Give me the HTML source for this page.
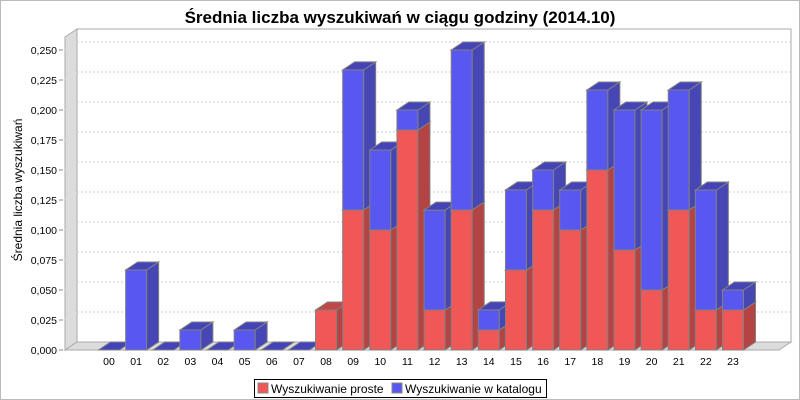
<!DOCTYPE html>
<html><head><meta charset="utf-8"><style>
body{margin:0;background:#fff}
svg{display:block;font-family:"Liberation Sans",sans-serif}
</style></head><body>
<svg id="c" width="800" height="400" xmlns="http://www.w3.org/2000/svg">
<rect x="0.5" y="0.5" width="799" height="399" fill="#fff" stroke="#bbb"/>
<text x="400" y="23" text-anchor="middle" font-size="17" font-weight="bold">Średnia liczba wyszukiwań w ciągu godziny (2014.10)</text>
<text transform="translate(22,190) rotate(-90)" text-anchor="middle" font-size="12">Średnia liczba wyszukiwań</text>
<g id="plot"></g>
<g>
<rect x="254.5" y="379.5" width="292" height="18" fill="#fff" stroke="#000"/>
<g><rect x="258" y="383" width="10" height="10" fill="#f05858" stroke="#888"/><text x="271" y="393" font-size="12">Wyszukiwanie proste</text></g>
<g><rect x="392" y="383" width="10" height="10" fill="#5858f0" stroke="#888"/><text x="405" y="393" font-size="12">Wyszukiwanie w katalogu</text></g>
</g>
</svg>
<script>
const categories=["00","01","02","03","04","05","06","07","08","09","10","11","12","13","14","15","16","17","18","19","20","21","22","23"];
const proste=[0,0,0,0,0,0,0,0,0.0333,0.1167,0.1,0.1833,0.0333,0.1167,0.0167,0.0667,0.1167,0.1,0.15,0.0833,0.05,0.1167,0.0333,0.0333];
const katalog=[0,0.0667,0,0.0167,0,0.0167,0,0,0,0.1167,0.0667,0.0167,0.0833,0.1333,0.0167,0.0667,0.0333,0.0333,0.0667,0.1167,0.15,0.1,0.1,0.0167];
const ticks=[0,0.025,0.05,0.075,0.1,0.125,0.15,0.175,0.2,0.225,0.25];
const tickLabels=["0,000","0,025","0,050","0,075","0,100","0,125","0,150","0,175","0,200","0,225","0,250"];
const NS="http://www.w3.org/2000/svg";
const g=document.getElementById('plot');
const DX=12,DY=8,Y0=350,YMAX=0.25,PH=300,X0=65,X1=779;
const y=v=>Y0-v/YMAX*PH;
const xc=i=>109+i*(733-109)/(categories.length-1);
const BW=21;
function el(t,a){const e=document.createElementNS(NS,t);for(const k in a)e.setAttribute(k,a[k]);g.appendChild(e);return e;}
// walls
let w=el('polygon',{points:`${X0},${Y0} ${X0+DX},${Y0-DY} ${X0+DX},29 ${X0},37`,fill:'#dcdcdc',stroke:'#aaa'});

w=el('polygon',{points:`${X0},${Y0} ${X0+DX},${Y0-DY} ${X1+DX},${Y0-DY} ${X1},${Y0}`,fill:'#dcdcdc',stroke:'#aaa'});

w=el('polyline',{points:`${X0+DX},${Y0-DY} ${X0+DX},29 ${X1+DX},29 ${X1+DX},${Y0-DY}`,fill:'none',stroke:'#aaa'});

ticks.forEach((t,i)=>{
 if(t>0){const l=el('line',{x1:X0,y1:y(t),x2:X0+DX,y2:y(t)-DY,stroke:'#ddd'});
 
 const gl=el('line',{x1:X0+DX,y1:y(t)-DY,x2:X1+DX,y2:y(t)-DY,stroke:'#ccc','stroke-dasharray':'2,2'});
 }
 const tk=el('line',{x1:59,y1:y(t),x2:63,y2:y(t),stroke:'#888'});
 
 const tx=el('text',{x:57,y:y(t)+4,'text-anchor':'end','font-size':'10.5'});tx.textContent=tickLabels[i];
 
});
function box(x,v0,v1,front,side,top,name){
 const yb=y(v0),yt=y(v1);
 const grp=document.createElementNS(NS,'g');g.appendChild(grp);
 
 const add=(pts,f)=>{const p=document.createElementNS(NS,'polygon');p.setAttribute('points',pts);p.setAttribute('fill',f);p.setAttribute('stroke','#808080');grp.appendChild(p);};
 if(v1>v0){
 add(`${x},${yb} ${x+BW},${yb} ${x+BW},${yt} ${x},${yt}`,front);
 add(`${x+BW},${yb} ${x+BW+DX},${yb-DY} ${x+BW+DX},${yt-DY} ${x+BW},${yt}`,side);}
 add(`${x},${yt} ${x+BW},${yt} ${x+BW+DX},${yt-DY} ${x+DX},${yt-DY}`,top);
}
categories.forEach((c,i)=>{
 const x=xc(i)-BW/2;
 if(proste[i]>0) box(x,0,proste[i],'#f05858','#b44444','#c04848','bar-proste-'+c);
 if(katalog[i]>0||proste[i]==0) box(x,proste[i],proste[i]+katalog[i],'#5858f0','#4646b4','#4444b8','bar-katalog-'+c);
 const t=el('text',{x:xc(i),y:365,'text-anchor':'middle','font-size':'10.5'});t.textContent=c;
 
});
</script>
</body></html>
